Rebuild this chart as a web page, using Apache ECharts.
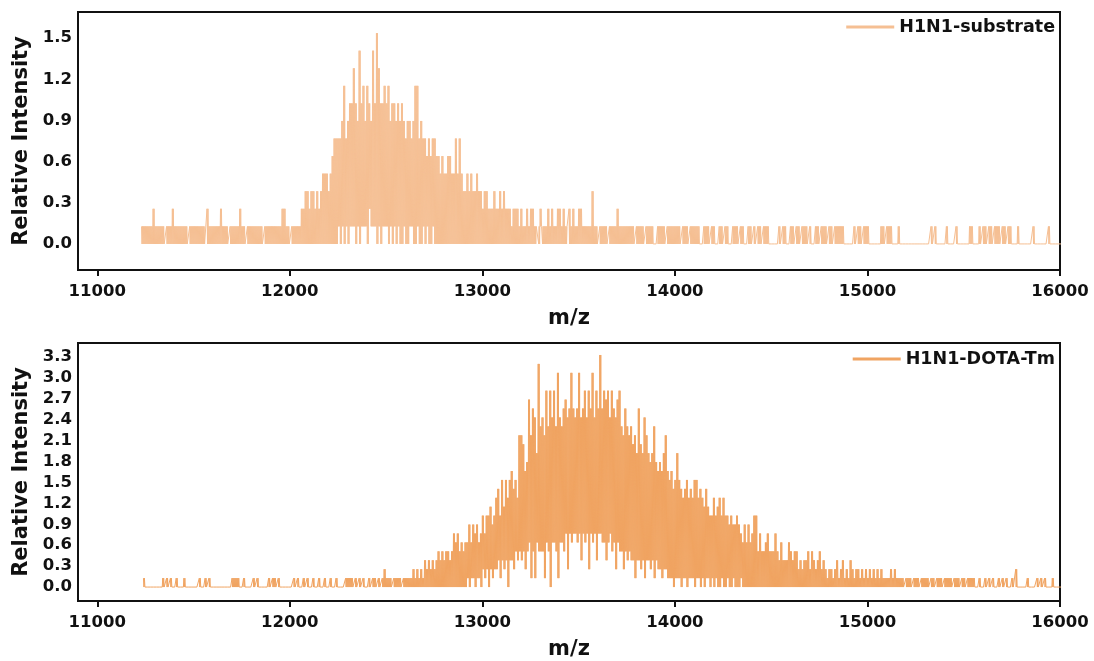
<!DOCTYPE html>
<html>
<head>
<meta charset="utf-8">
<script src="https://cdn.jsdelivr.net/npm/echarts@6/dist/echarts.min.js"></script>
<style>
  html, body { margin: 0; padding: 0; background: #fff; }
  #chart { width: 1094px; height: 661px; }
</style>
</head>
<body>
<div id="chart"></div>
<script>
// Axis ticks
const mzTicks = [11000, 12000, 13000, 14000, 15000, 16000];
const substrateTicks = [0, 0.3, 0.6, 0.9, 1.2, 1.5];
const dotaTicks = [0, 0.3, 0.6, 0.9, 1.2, 1.5, 1.8, 2.1, 2.4, 2.7, 3.0, 3.3];

// Spectra are stored as detector counts per 10 m/z bin, one base-36 digit per bin
// (a = 10, b = 11, ... q = 26). "High" is the top of the trace in each bin,
// "low" is how far the trace falls back inside that bin; bins past the end of a
// low string sit on the baseline.
const countStep = 0.128;   // relative intensity of one count
const binWidth = 10;       // m/z per bin

const substrateStart = 11230;
const substrateHigh = [
  "11111121111101112111111101111111102111111211101111",
  "12110111111110111111111221101111122332332323444345",
  "6666796788a87b897987b8ca88989788787876776799676656",
  "56655454455446464334343343323322232232322212221211",
  "21221112111212112212112121122111113110111101111211",
  "11111101111011110011110111111101110111110011101100",
  "11011001110110011010110111000001011001101101110100",
  "11011101101111100000101101110000001101110001000000",
  "00000000001010000010000100000011000101101101110110",
  "1100010000000100000001000000"
];
const substrateLow = [
  "00000000000000000000000000000000000000000000000000",
  "00000000000000000000000000000000000000000000000000",
  "00101010111010111021110101110101010010011001001010",
  "01000000000000000000000000000000000000000000000000",
  "00000101000000000000010000000000000000000000000000"
];

const dotaStart = 11240;
const dotaHigh = [
  "10000000001010100100010000000100101000000000001111",
  "00100001010000010110100000001010010100100100100100",
  "10000111101010100101101012111011110111112121213232",
  "323434344346564545575767568688978ab8c9cacdbcahhgde",
  "lhkjfpijhmimjmiojikljkokjkojkmjmkojmkqkmlmjmkjlmih",
  "kihighfkgfjhfefiededfhdcdbcfcbabcabaccaba9b988a89a",
  "8a887877876575756884644564446435333543442323342432",
  "34232122123123121321221212121212121111212111101110",
  "11101111011011101111011101101111001001010100101010",
  "010200000100001010100010000"
];
const dotaLow = [
  "00000000000000000000000000000000000000000000000000",
  "00000000000000000000000000000000000000000000000000",
  "00000000000000000000000000000000000000000000000000",
  "00000000000000000010110110212021223132303324343424",
  "51415444154055415546265665636562656366553564525442",
  "43433133231332313221221110111011011101101011010100",
  "10010010001000000000000000000000000000000000000000"
];

// Each bin is traced as two rises to its high count and two falls to its low
// count, so the thin line fills the bin the way a raw spectrum's dense scan does.
function buildTrace(start, highChunks, lowChunks) {
  const high = highChunks.join('');
  const low = lowChunks.join('');
  const q = binWidth / 4;
  const pts = [];
  for (let i = 0; i < high.length; i++) {
    const x = start + i * binWidth;
    const hi = +(parseInt(high[i], 36) * countStep).toFixed(4);
    const lo = +((i < low.length ? parseInt(low[i], 36) : 0) * countStep).toFixed(4);
    pts.push([x, hi], [x + q, lo], [x + 2 * q, hi], [x + 3 * q, lo]);
  }
  return pts;
}

const ink = '#111111';
const font = 'DejaVu Sans';
const substrateColor = '#F5BF93';
const dotaColor = '#F0A462';

function xAxisFor(gridIndex) {
  return {
    type: 'value', gridIndex, min: 10900, max: 16000,
    axisLine: { show: false, onZero: false },
    splitLine: { show: false },
    axisTick: { show: true, inside: false, length: 6, customValues: mzTicks,
                lineStyle: { width: 2, color: ink } },
    axisLabel: { customValues: mzTicks, margin: 13, fontSize: 16.5, fontWeight: 'bold',
                 fontFamily: font, color: ink, formatter: v => String(v) },
    name: 'm/z', nameLocation: 'middle', nameGap: 38,
    nameTextStyle: { fontSize: 21, fontWeight: 'bold', fontFamily: font, color: ink }
  };
}

function yAxisFor(gridIndex, min, max, ticks) {
  return {
    type: 'value', gridIndex, min, max,
    axisLine: { show: false, onZero: false },
    splitLine: { show: false },
    axisTick: { show: false },
    axisLabel: { customValues: ticks, margin: 6, fontSize: 16.5, fontWeight: 'bold',
                 fontFamily: font, color: ink, formatter: v => v.toFixed(1) },
    name: 'Relative Intensity', nameLocation: 'middle', nameGap: 38,
    nameTextStyle: { fontSize: 21, fontWeight: 'bold', fontFamily: font, color: ink }
  };
}

function legendFor(name, top) {
  return {
    data: [name], right: 39, top, padding: 0, itemGap: 0,
    icon: 'rect', itemWidth: 48, itemHeight: 3,
    textStyle: { fontSize: 17.5, fontWeight: 'bold', fontFamily: font, color: ink }
  };
}

function seriesFor(name, idx, color, data) {
  return {
    name, type: 'line', xAxisIndex: idx, yAxisIndex: idx, data,
    showSymbol: false, symbol: 'none', silent: true,
    lineStyle: { width: 1, color, join: 'bevel', cap: 'butt' },
    itemStyle: { color }
  };
}

const chart = echarts.init(document.getElementById('chart'), null, { renderer: 'canvas' });
chart.setOption({
  animation: false,
  backgroundColor: '#ffffff',
  grid: [
    { left: 78, right: 34, top: 12, height: 258, show: true, borderColor: ink, borderWidth: 2 },
    { left: 78, right: 34, top: 343, height: 259, show: true, borderColor: ink, borderWidth: 2 }
  ],
  xAxis: [xAxisFor(0), xAxisFor(1)],
  yAxis: [
    yAxisFor(0, -0.19, 1.69, substrateTicks),
    yAxisFor(1, -0.2, 3.5, dotaTicks)
  ],
  legend: [legendFor('H1N1-substrate', 18), legendFor('H1N1-DOTA-Tm', 350)],
  series: [
    seriesFor('H1N1-substrate', 0, substrateColor, buildTrace(substrateStart, substrateHigh, substrateLow)),
    seriesFor('H1N1-DOTA-Tm', 1, dotaColor, buildTrace(dotaStart, dotaHigh, dotaLow))
  ]
});
</script>
</body>
</html>
